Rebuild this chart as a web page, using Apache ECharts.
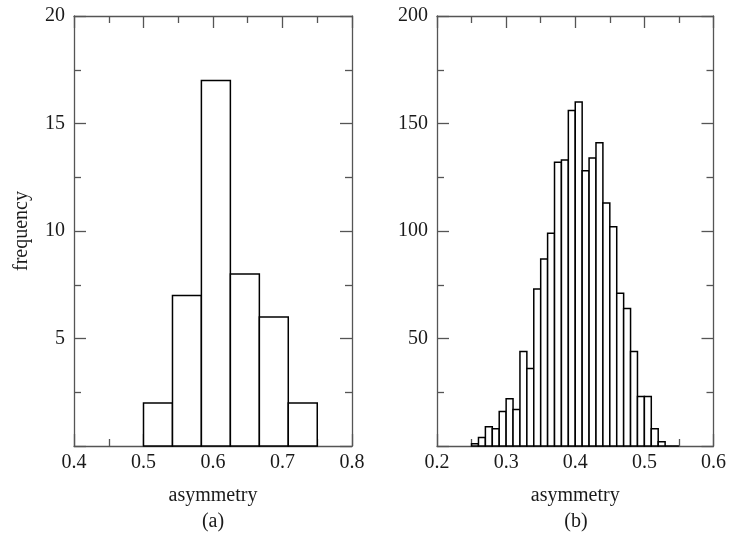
<!DOCTYPE html>
<html>
<head>
<meta charset="utf-8">
<script src="https://cdn.jsdelivr.net/npm/echarts@6/dist/echarts.min.js"></script>
<style>
  html, body { margin: 0; padding: 0; background: #fff; }
  #chart { width: 729px; height: 544px; }
</style>
</head>
<body>
<div id="chart"></div>
<script>
// panel (a): bin edges and counts
var edgesA = [0.5, 0.5417, 0.5833, 0.625, 0.6667, 0.7083, 0.75];
var countsA = [2, 7, 17, 8, 6, 2];

// panel (b): bin edges and counts
var edgesB = [0.25, 0.26, 0.27, 0.28, 0.29, 0.30, 0.31, 0.32, 0.33, 0.34, 0.35,
              0.36, 0.37, 0.38, 0.39, 0.40, 0.41, 0.42, 0.43, 0.44, 0.45,
              0.46, 0.47, 0.48, 0.49, 0.50, 0.51, 0.52, 0.53, 0.54, 0.55];
var countsB = [1, 4, 9, 8, 16, 22, 17, 44, 36, 73, 87, 99, 132, 133, 156,
               160, 128, 134, 141, 113, 102, 71, 64, 44, 23, 23, 8, 2, 0, 0];

var xRangeA = [0.4, 0.8];
var yRangeA = [0, 20, 5];
var xRangeB = [0.2, 0.6];
var yRangeB = [0, 200, 50];

var font = 'Liberation Serif';
var fs = 20;
var frame = '#555';
var ink = '#1a1a1a';

function toBins(edges, counts) {
  var out = [];
  for (var i = 0; i < counts.length; i++) out.push([edges[i], edges[i + 1], counts[i]]);
  return out;
}

function xAx(grid, range, pos, labels, name) {
  return {
    type: 'value', gridIndex: grid, position: pos,
    min: range[0], max: range[1], interval: 0.1,
    name: name || '', nameLocation: 'middle', nameGap: 40,
    nameTextStyle: { fontFamily: font, fontSize: fs, color: ink },
    axisLine: { show: true, onZero: false, lineStyle: { color: frame, width: 1.3 } },
    axisTick: { show: true, inside: true, length: 12, lineStyle: { color: frame, width: 1.3 } },
    minorTick: { show: true, splitNumber: 2, length: 7, lineStyle: { color: frame, width: 1.3 } },
    axisLabel: { show: labels, margin: 7, fontFamily: font, fontSize: fs, color: ink,
      formatter: function (v) { return v.toFixed(1); } },
    splitLine: { show: false }
  };
}

function yAx(grid, range, pos, labels, name) {
  return {
    type: 'value', gridIndex: grid, position: pos,
    min: range[0], max: range[1], interval: range[2],
    name: name || '', nameLocation: 'middle', nameGap: 42, nameRotate: 90,
    nameTextStyle: { fontFamily: font, fontSize: fs, color: ink },
    axisLine: { show: true, onZero: false, lineStyle: { color: frame, width: 1.3 } },
    axisTick: { show: true, inside: true, length: 12, lineStyle: { color: frame, width: 1.3 } },
    minorTick: { show: true, splitNumber: 2, length: 7, lineStyle: { color: frame, width: 1.3 } },
    axisLabel: { show: labels, showMinLabel: false, margin: 9, fontFamily: font, fontSize: fs, color: ink },
    splitLine: { show: false }
  };
}

function histSeries(xi, yi, data) {
  return {
    type: 'custom', xAxisIndex: xi, yAxisIndex: yi, data: data,
    encode: { x: [0, 1], y: 2 },
    renderItem: function (params, api) {
      var p0 = api.coord([api.value(0), api.value(2)]);
      var p1 = api.coord([api.value(1), 0]);
      return {
        type: 'rect',
        shape: { x: p0[0], y: p0[1], width: p1[0] - p0[0], height: p1[1] - p0[1] },
        style: { fill: '#fff', stroke: '#000', lineWidth: 1.5 }
      };
    }
  };
}

var chart = echarts.init(document.getElementById('chart'));
chart.setOption({
  animation: false,
  backgroundColor: '#fff',
  grid: [
    { left: 74, right: 377, top: 16, bottom: 98 },
    { left: 437, right: 15, top: 16, bottom: 98 }
  ],
  xAxis: [
    xAx(0, xRangeA, 'bottom', true, 'asymmetry'),
    xAx(0, xRangeA, 'top', false),
    xAx(1, xRangeB, 'bottom', true, 'asymmetry'),
    xAx(1, xRangeB, 'top', false)
  ],
  yAxis: [
    yAx(0, yRangeA, 'left', true, 'frequency'),
    yAx(0, yRangeA, 'right', false),
    yAx(1, yRangeB, 'left', true),
    yAx(1, yRangeB, 'right', false)
  ],
  graphic: [
    { type: 'text', x: 213, y: 522, style: { text: '(a)', align: 'center', verticalAlign: 'middle', fontFamily: font, fontSize: fs, fill: ink } },
    { type: 'text', x: 576, y: 522, style: { text: '(b)', align: 'center', verticalAlign: 'middle', fontFamily: font, fontSize: fs, fill: ink } }
  ],
  series: [
    histSeries(0, 0, toBins(edgesA, countsA)),
    histSeries(2, 2, toBins(edgesB, countsB))
  ]
});
</script>
</body>
</html>
